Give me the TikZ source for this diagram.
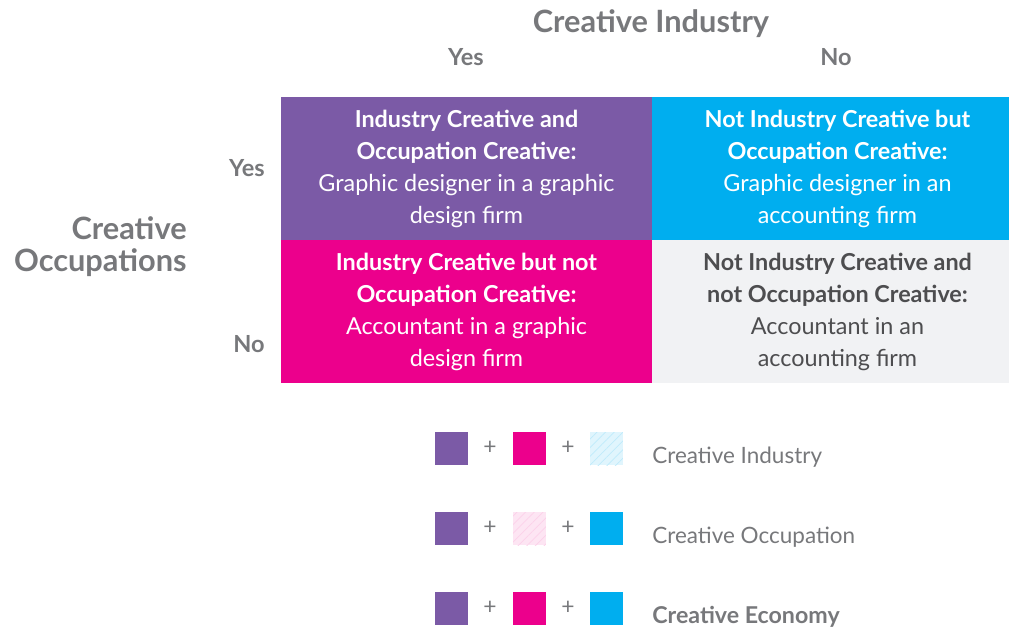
\documentclass[tikz,border=0pt]{standalone}
\usepackage{fontspec}
\setmainfont{Lato}
\usetikzlibrary{patterns.meta}
\definecolor{cpurple}{HTML}{7B5AA6}
\definecolor{ccyan}{HTML}{00AEEF}
\definecolor{cmagenta}{HTML}{EC008C}
\definecolor{clight}{HTML}{F1F2F4}
\definecolor{cgrey}{HTML}{77787B}
\definecolor{cdark}{HTML}{4D4D4F}
\begin{document}
\begin{tikzpicture}[x=0.02cm, y=-0.02cm,
  every node/.style={font=\fontsize{13.3}{18.2}\selectfont, inner sep=0pt},
  cell/.style={minimum width=7.42cm, minimum height=2.86cm, align=center, text=white},
  head/.style={font=\fontsize{17.5}{18.2}\selectfont\bfseries, text=cgrey},
  axis/.style={font=\fontsize{13.4}{15}\selectfont\bfseries, text=cgrey},
  swatch/.style={minimum width=0.66cm, minimum height=0.66cm},
  plus/.style={text=cgrey, font=\fontsize{13}{14}\selectfont},
  legend/.style={text=cgrey, anchor=west, font=\fontsize{12.8}{14}\selectfont}]
  \useasboundingbox (0,0) rectangle (1009,629);
  % headers
  \node[head] (ind) at (651,24) {Creative Industry};
  \node[axis] (iyes) at (466,57) {Yes};
  \node[axis] (ino) at (836,57) {No};
  \node[head, align=right, anchor=east] (occ) at (187,247) {Creative\\Occupations};
  \node[axis] (oyes) at (247,168) {Yes};
  \node[axis] (ono) at (249,344) {No};
  % the four cells (right column runs past the page edge)
  \node[cell, fill=cpurple] (yy) at (466.5,168.5)
    {\textbf{Industry Creative and}\\\textbf{Occupation Creative:}\\Graphic designer in a graphic\\design firm};
  \node[cell, fill=ccyan] (ny) at (837.5,168.5)
    {\textbf{Not Industry Creative but}\\\textbf{Occupation Creative:}\\Graphic designer in an\\accounting firm};
  \node[cell, fill=cmagenta] (yn) at (466.5,311.5)
    {\textbf{Industry Creative but not}\\\textbf{Occupation Creative:}\\Accountant in a graphic\\design firm};
  \node[cell, fill=clight, text=cdark] (nn) at (837.5,311.5)
    {\textbf{Not Industry Creative and}\\\textbf{not Occupation Creative:}\\Accountant in an\\accounting firm};
  % legend
  \node[swatch, fill=cpurple] (p1) at (451.5,448.5) {};
  \node[plus] (a1) at (490,448) {+};
  \node[swatch, fill=cmagenta] (m1) at (529.5,448.5) {};
  \node[plus] (b1) at (568,448) {+};
  \node[swatch, fill=ccyan!12, postaction={pattern={Lines[angle=45,distance=3.5pt,line width=0.4pt]}, pattern color=ccyan!25}] (c1) at (606.5,448.5) {};
  \node[legend] (l1) at (652,457) {Creative Industry};
  \node[swatch, fill=cpurple] (p2) at (451.5,528.5) {};
  \node[plus] (a2) at (490,528) {+};
  \node[swatch, fill=cmagenta!10, postaction={pattern={Lines[angle=45,distance=3.5pt,line width=0.4pt]}, pattern color=cmagenta!18}] (m2) at (529.5,528.5) {};
  \node[plus] (b2) at (568,528) {+};
  \node[swatch, fill=ccyan] (c2) at (606.5,528.5) {};
  \node[legend] (l2) at (652,537) {Creative Occupation};
  \node[swatch, fill=cpurple] (p3) at (451.5,608.5) {};
  \node[plus] (a3) at (490,608) {+};
  \node[swatch, fill=cmagenta] (m3) at (529.5,608.5) {};
  \node[plus] (b3) at (568,608) {+};
  \node[swatch, fill=ccyan] (c3) at (606.5,608.5) {};
  \node[legend, font=\fontsize{13.2}{14}\selectfont\bfseries] (l3) at (652,617) {Creative Economy};
\end{tikzpicture}
\end{document}
